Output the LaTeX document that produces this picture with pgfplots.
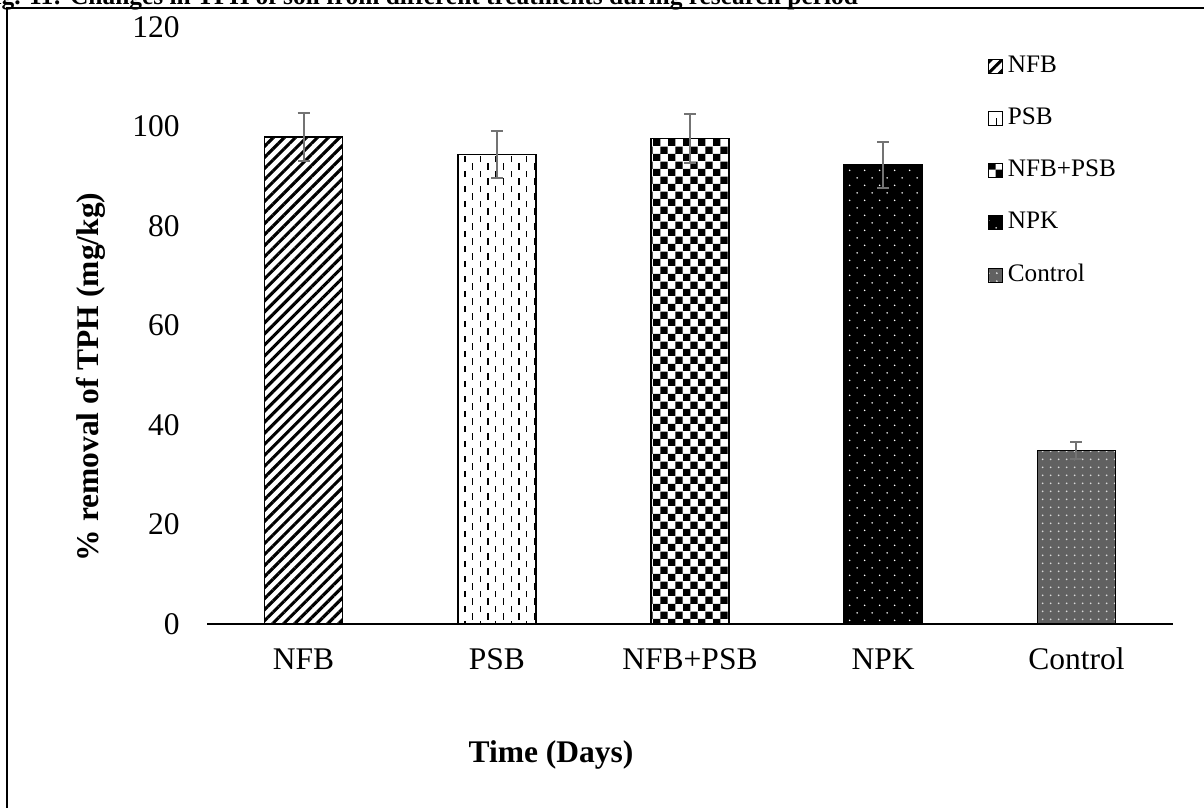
\documentclass[border=0pt]{standalone}
\usepackage{fontspec}
\setmainfont{Liberation Serif}
\usepackage{pgfplots}
\pgfplotsset{compat=1.18}
\usetikzlibrary{patterns,patterns.meta}

\pgfdeclarepatternformonly{mychecker}{\pgfpointorigin}{\pgfqpoint{7.6pt}{7.6pt}}{\pgfqpoint{7.6pt}{7.6pt}}{%
  \pgfpathrectangle{\pgfpointorigin}{\pgfqpoint{3.8pt}{3.8pt}}%
  \pgfpathrectangle{\pgfqpoint{3.8pt}{3.8pt}}{\pgfqpoint{3.8pt}{3.8pt}}%
  \pgfusepath{fill}}
\pgfdeclarepatternformonly{psbdash}{\pgfqpoint{-0.5pt}{-0.5pt}}{\pgfqpoint{8.2pt}{8pt}}{\pgfqpoint{7.7pt}{7.5pt}}{%
  \pgfsetlinewidth{0.65pt}%
  \pgfpathmoveto{\pgfqpoint{1.5pt}{0.4pt}}\pgfpathlineto{\pgfqpoint{1.5pt}{3.6pt}}%
  \pgfpathmoveto{\pgfqpoint{5.35pt}{4.15pt}}\pgfpathlineto{\pgfqpoint{5.35pt}{7.35pt}}%
  \pgfusepath{stroke}}
\pgfdeclarepatternformonly{mydots}{\pgfpointorigin}{\pgfqpoint{7.7pt}{7.7pt}}{\pgfqpoint{7.7pt}{7.7pt}}{%
  \pgfpathcircle{\pgfqpoint{1.9pt}{1.9pt}}{0.45pt}%
  \pgfpathcircle{\pgfqpoint{5.75pt}{5.75pt}}{0.45pt}%
  \pgfusepath{fill}}
\pgfdeclarepatternformonly{finedots}{\pgfpointorigin}{\pgfqpoint{3.85pt}{3.85pt}}{\pgfqpoint{3.85pt}{3.85pt}}{%
  \pgfpathcircle{\pgfqpoint{1.9pt}{1.9pt}}{0.5pt}%
  \pgfusepath{fill}}

\pgfplotsset{
  mylegend/.style={legend image code/.code={%
    \draw[##1, line width=0.5pt] (0pt,-3.5pt) rectangle (7pt,3.5pt);}},
  myerr/.style={error bars/.cd, y dir=both, y explicit,
    error bar style={color=black!55, line width=1pt},
    error mark options={rotate=90, mark size=3pt, line width=1pt, color=black!55}},
}

\begin{document}
\begin{tikzpicture}
\begin{axis}[
  at={(103.5pt,92pt)}, anchor=south west,
  scale only axis, width=483pt, height=298.5pt,
  ybar, bar width=39pt,
  xmin=-0.5, xmax=4.5, ymin=0, ymax=120,
  xtick={0,1,2,3,4},
  xticklabels={NFB,PSB,NFB+PSB,NPK,Control},
  ytick={0,20,40,60,80,100,120},
  major tick length=0pt,
  axis x line*=bottom, axis y line*=left,
  axis line style={-},
  x axis line style={line width=0.75pt, black},
  y axis line style={draw=none},
  /pgf/number format/assume math mode=true,
  tick label style={font=\fontsize{15.75}{18}\selectfont},
  yticklabel style={anchor=east, inner sep=0pt, xshift=-13.5pt},
  xticklabel style={anchor=north, inner sep=0pt, text height=11pt, text depth=3pt, yshift=-11.5pt},
  legend style={at={(rel axis cs:0.808,0.955)}, anchor=north west, draw=none, fill=none,
    font=\fontsize{12.6}{14}\selectfont, row sep=14.1pt, inner sep=0pt,
    nodes={inner sep=0pt, text height=9pt, text depth=3pt},
    /tikz/every odd column/.append style={column sep=2.5pt}},
  legend cell align=left,
]
\addplot[bar shift=0pt, draw=black, line width=0.75pt,
  pattern={Lines[angle=45,distance=3.9pt,line width=1.55pt]}, mylegend, myerr]
  coordinates {(0,97.9) +- (0,4.9)};
\addlegendentry{NFB}
\addplot[bar shift=0pt, draw=black, line width=0.75pt,
  pattern=psbdash, mylegend, myerr]
  coordinates {(1,94.4) +- (0,4.7)};
\addlegendentry{PSB}
\addplot[bar shift=0pt, draw=black, line width=0.75pt,
  pattern=mychecker, mylegend, myerr]
  coordinates {(2,97.6) +- (0,4.9)};
\addlegendentry{NFB+PSB}
\addplot[bar shift=0pt, draw=black, line width=0.75pt, fill=black,
  postaction={pattern=mydots, pattern color=white}, mylegend, myerr]
  coordinates {(3,92.3) +- (0,4.65)};
\addlegendentry{NPK}
\addplot[bar shift=0pt, draw=black, line width=0.75pt, fill=black!62,
  postaction={pattern=finedots, pattern color=white!85!black}, mylegend, myerr]
  coordinates {(4,34.9) +- (0,1.7)};
\addlegendentry{Control}
\end{axis}
\node[rotate=90, anchor=base, font=\bfseries\fontsize{15.75}{18}\selectfont] at (49pt,215.5pt) {\% removal of TPH (mg/kg)};
\node[anchor=base, font=\bfseries\fontsize{15.75}{18}\selectfont] at (275.5pt,23pt) {Time (Days)};
\node[anchor=base east, font=\bfseries\fontsize{12.7}{15}\selectfont] at (432.5pt,401.5pt) {Fig. 11: Changes in TPH of soil from different treatments during research period};
\draw[line width=1pt] (3.5pt,-20pt) -- (3.5pt,400.1pt) -- (640pt,400.1pt);
\pgfresetboundingbox
\useasboundingbox (0,0) rectangle (602pt,404pt);
\end{tikzpicture}
\end{document}
